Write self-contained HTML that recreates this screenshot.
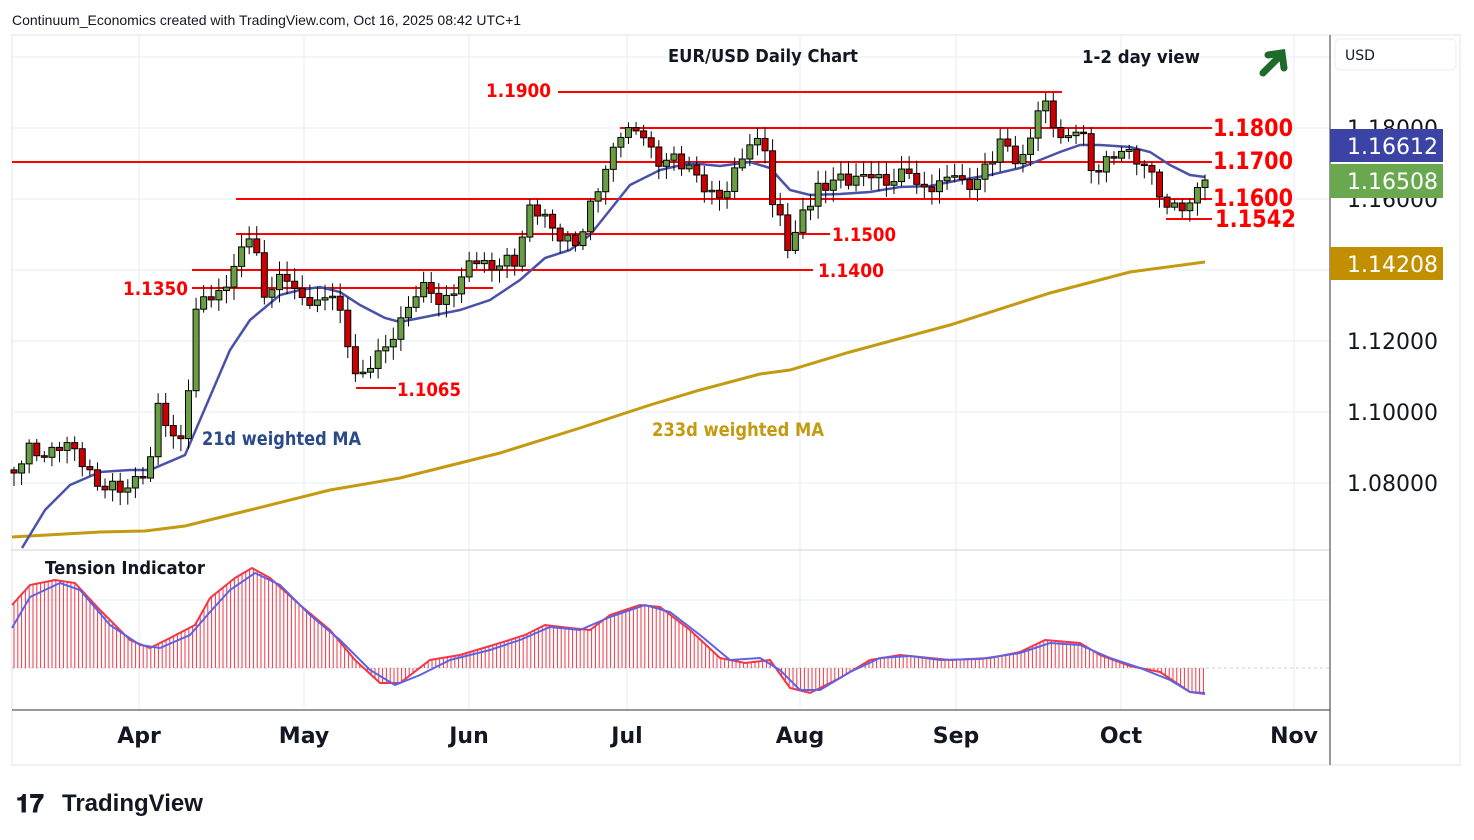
<!DOCTYPE html>
<html><head><meta charset="utf-8"><style>
body{margin:0;background:#fff;width:1474px;height:840px;overflow:hidden;font-family:"Liberation Sans","DejaVu Sans",sans-serif}
svg{position:absolute;left:0;top:0}
</style></head><body>
<svg id="s" width="1474" height="840" xmlns="http://www.w3.org/2000/svg" font-family="DejaVu Sans, Liberation Sans, sans-serif">
<rect x="12" y="35" width="1448" height="730" fill="#fff" stroke="#e0e3eb"/>
<g stroke="#e6edf5" stroke-width="1" id="grid">
<line x1="12" y1="57" x2="1330" y2="57"/><line x1="12" y1="128" x2="1330" y2="128"/><line x1="12" y1="199" x2="1330" y2="199"/>
<line x1="12" y1="270" x2="1330" y2="270"/><line x1="12" y1="341" x2="1330" y2="341"/><line x1="12" y1="412" x2="1330" y2="412"/><line x1="12" y1="483" x2="1330" y2="483"/>
<line x1="12" y1="600" x2="1330" y2="600"/>
<line x1="139" y1="35" x2="139" y2="710"/><line x1="304" y1="35" x2="304" y2="710"/><line x1="469" y1="35" x2="469" y2="710"/><line x1="627" y1="35" x2="627" y2="710"/><line x1="800" y1="35" x2="800" y2="710"/><line x1="956" y1="35" x2="956" y2="710"/><line x1="1121" y1="35" x2="1121" y2="710"/><line x1="1294" y1="35" x2="1294" y2="710"/>
</g>
<line x1="12" y1="668" x2="1330" y2="668" stroke="#c8ccd4" stroke-dasharray="3,3"/>
<line x1="12" y1="550" x2="1330" y2="550" stroke="#d0d3da"/>
<line x1="12" y1="710" x2="1330" y2="710" stroke="#333"/>
<line x1="1330" y1="35" x2="1330" y2="765" stroke="#333"/>
<g id="hist"></g>
<g id="main"></g>
<g fill="#ff0000" font-weight="bold" font-family="DejaVu Sans, sans-serif">
<text x="486" y="97" font-size="19" textLength="65" lengthAdjust="spacingAndGlyphs">1.1900</text>
<text x="1213" y="136" font-size="24" textLength="80" lengthAdjust="spacingAndGlyphs">1.1800</text>
<text x="1213" y="169" font-size="24" textLength="80" lengthAdjust="spacingAndGlyphs">1.1700</text>
<text x="1213" y="206" font-size="24" textLength="80" lengthAdjust="spacingAndGlyphs">1.1600</text>
<text x="1215" y="227" font-size="24" textLength="81" lengthAdjust="spacingAndGlyphs">1.1542</text>
<text x="832" y="241" font-size="19" textLength="64" lengthAdjust="spacingAndGlyphs">1.1500</text>
<text x="818" y="277" font-size="19" textLength="66" lengthAdjust="spacingAndGlyphs">1.1400</text>
<text x="123" y="295" font-size="19" textLength="65" lengthAdjust="spacingAndGlyphs">1.1350</text>
<text x="397" y="396" font-size="19" textLength="64" lengthAdjust="spacingAndGlyphs">1.1065</text>
</g>
<text x="202" y="445" font-size="19" font-weight="bold" fill="#2a4a8a" textLength="159" lengthAdjust="spacingAndGlyphs">21d weighted MA</text>
<text x="652" y="436" font-size="19" font-weight="bold" fill="#c39a10" textLength="172" lengthAdjust="spacingAndGlyphs">233d weighted MA</text>
<text x="668" y="62" font-size="18" font-weight="bold" fill="#131722" textLength="190" lengthAdjust="spacingAndGlyphs">EUR/USD Daily Chart</text>
<text x="1082" y="63" font-size="18" font-weight="bold" fill="#131722" textLength="118" lengthAdjust="spacingAndGlyphs">1-2 day view</text>
<text x="45" y="574" font-size="18" font-weight="bold" fill="#131722" textLength="160" lengthAdjust="spacingAndGlyphs">Tension Indicator</text>
<g stroke="#1e6b2a" stroke-width="7" fill="none" stroke-linecap="round"><line x1="1263" y1="73" x2="1281" y2="55"/><polyline points="1268,55 1282,53 1284,68" stroke-linejoin="miter"/></g>
<text x="12" y="25" font-size="14" fill="#131722" font-family="Liberation Sans, sans-serif">Continuum_Economics created with TradingView.com, Oct 16, 2025 08:42 UTC+1</text>
<rect x="1335" y="39" width="121" height="31" rx="5" fill="#fff" stroke="#eceef2"/>
<text x="1345" y="60" font-size="14" fill="#131722">USD</text>
<g font-size="22" fill="#131722">
<text x="1347" y="136">1.18000</text><text x="1347" y="207">1.16000</text><text x="1347" y="349">1.12000</text><text x="1347" y="420">1.10000</text><text x="1347" y="491">1.08000</text>
</g>
<rect x="1330" y="129" width="113" height="33" fill="#3b44a5"/><text x="1347" y="154" font-size="22" fill="#fff">1.16612</text>
<rect x="1330" y="164" width="113" height="34" fill="#6aa84f"/><text x="1347" y="189" font-size="22" fill="#fff">1.16508</text>
<rect x="1330" y="247" width="113" height="33" fill="#c18f00"/><text x="1347" y="272" font-size="22" fill="#fff">1.14208</text>
<g font-size="22" fill="#131722" font-weight="bold" text-anchor="middle">
<text x="139" y="743">Apr</text><text x="304" y="743">May</text><text x="469" y="743">Jun</text><text x="627" y="743">Jul</text><text x="800" y="743">Aug</text><text x="956" y="743">Sep</text><text x="1121" y="743">Oct</text><text x="1294" y="743">Nov</text>
</g>
<text x="16" y="812" font-size="25" font-weight="bold" fill="#131722">𝟏𝟕</text>
<text x="62" y="811" font-size="24" font-weight="bold" fill="#131722" font-family="Liberation Sans, sans-serif">TradingView</text>
</svg>
<script>
const NS="http://www.w3.org/2000/svg";
function el(p,t,a){const e=document.createElementNS(NS,t);for(const k in a)e.setAttribute(k,a[k]);p.appendChild(e);return e;}
const Y=p=>341-(p-1.12)*3550;
const main=document.getElementById('main'),hist=document.getElementById('hist');
function interp(A,x){for(let i=0;i<A.length-1;i++){if(x>=A[i][0]&&x<=A[i+1][0]){const t=(x-A[i][0])/(A[i+1][0]-A[i][0]);return A[i][1]+t*(A[i+1][1]-A[i][1]);}}return x<A[0][0]?A[0][1]:A[A.length-1][1];}
const pts=A=>A.map(a=>a.join(',')).join(' ');
const red=[[12,605],[30,585],[55,580],[75,583],[100,610],[130,640],[150,648],[170,638],[195,625],[210,598],[235,578],[252,568],[270,578],[300,605],[330,630],[355,660],[380,683],[400,683],[430,660],[460,655],[500,643],[525,635],[545,625],[570,628],[590,630],[610,615],[640,605],[660,607],[690,630],[720,658],[745,663],[770,660],[790,688],[810,693],[840,678],[870,660],[900,655],[930,658],[950,660],[990,658],[1020,652],[1045,640],[1080,643],[1100,655],[1130,666],[1160,672],[1190,692],[1205,694]];
const blue2=[[12,628],[30,597],[60,583],[80,590],[110,625],[140,645],[160,648],[190,635],[210,612],[230,590],[255,573],[280,585],[310,615],[340,640],[370,670],[395,685],[420,675],[450,660],[490,650],[520,640],[550,627],[580,630],[610,617],[645,605],[670,612],[700,635],[730,660],[760,658],[780,670],[800,690],[820,690],[850,672],[880,658],[910,656],[940,660],[980,659],[1020,653],[1050,643],[1080,645],[1110,658],[1140,668],[1170,680],[1190,692],[1205,693]];
for(let x=14;x<=1205;x+=3.8){el(hist,'line',{x1:x,x2:x,y1:668,y2:interp(red,x),stroke:'#f23645','stroke-width':1});}
el(hist,'polyline',{points:pts(red),fill:'none',stroke:'#f23645','stroke-width':2});
el(hist,'polyline',{points:pts(blue2),fill:'none',stroke:'#5b63e6','stroke-width':2});
const lv=[[558,1062,92],[620,1212,128],[12,1212,162],[236,1212,199],[1166,1212,219],[236,830,234],[192,813,270],[192,493,288],[356,396,388]];
lv.forEach(l=>el(main,'line',{x1:l[0],x2:l[1],y1:l[2],y2:l[2],stroke:'#ff0000','stroke-width':2}));
const gold=[[12,537],[100,532],[145,531],[185,526],[250,510],[330,490],[400,478],[500,453],[580,428],[650,405],[700,390],[760,374],[790,370],[850,352],[950,325],[1050,293],[1130,272],[1205,262]];
el(main,'polyline',{points:pts(gold),fill:'none',stroke:'#c39a10','stroke-width':3});
const bma=[[22,548],[45,510],[70,485],[100,472],[130,470],[150,470],[185,455],[200,420],[230,350],[250,320],[280,295],[300,290],[320,287],[340,292],[360,305],[385,318],[400,322],[420,318],[440,314],[460,310],[490,300],[520,280],[545,258],[570,250],[590,235],[610,210],[630,185],[660,170],[690,163],[720,166],[750,162],[770,168],[790,190],[810,195],[840,194],[870,192],[900,187],[930,186],[960,180],[990,175],[1020,168],[1040,160],[1060,152],[1080,145],[1100,145],[1130,147],[1150,152],[1170,165],[1190,175],[1205,177]];
el(main,'polyline',{points:pts(bma),fill:'none',stroke:'#4a52a8','stroke-width':2.5});
const cy=[[14,470],[30,450],[50,455],[70,440],[85,470],[100,485],[115,490],[140,480],[150,465],[155,395],[165,420],[170,445],[185,430],[192,345],[200,290],[215,300],[230,280],[245,235],[255,240],[260,295],[275,285],[290,275],[300,300],[315,305],[330,290],[345,330],[358,382],[365,382],[375,350],[385,350],[395,335],[410,300],[430,285],[440,305],[450,300],[470,260],[485,265],[500,265],[515,260],[530,210],[545,215],[560,240],[580,240],[590,210],[600,180],[610,160],[620,135],[630,128],[640,130],[655,160],[670,160],[690,165],[700,185],[710,195],[720,195],[730,190],[740,155],[748,145],[765,145],[770,200],[778,215],[785,222],[790,270],[800,205],[810,208],[820,185],[835,180],[850,180],[860,175],[880,178],[895,183],[910,165],[920,195],[935,185],[950,175],[965,185],[980,180],[1000,140],[1015,160],[1025,155],[1040,105],[1047,105],[1055,125],[1065,150],[1075,125],[1082,125],[1090,175],[1100,165],[1110,155],[1125,152],[1140,158],[1150,175],[1158,185],[1165,210],[1175,205],[1185,210],[1190,205],[1198,182],[1205,180]];
let prev=Y(1.0837);
const N=158;
for(let i=0;i<N;i++){
 const x=14+i*(1191/(N-1));
 let c=interp(cy,x)+Math.sin(i*2.3)*5+Math.cos(i*1.7)*3;
 if(i==N-1)c=180;
 let o=prev;
 if(Math.abs(c-o)<1.5)c=o+1.5*(i%2?1:-1);
 const top=Math.min(o,c),bot=Math.max(o,c);
 const hi=top-3-Math.abs(Math.sin(i*3.1))*10,lo=bot+3+Math.abs(Math.cos(i*2.7))*10;
 const up=c<o;
 el(main,'line',{x1:x,x2:x,y1:hi,y2:lo,stroke:'#000','stroke-width':1});
 el(main,'rect',{x:x-3,y:top,width:6,height:Math.max(bot-top,1.5),fill:up?'#6a9e45':'#cc0000',stroke:'#000','stroke-width':1});
 prev=c;
}
</script>
</body></html>
